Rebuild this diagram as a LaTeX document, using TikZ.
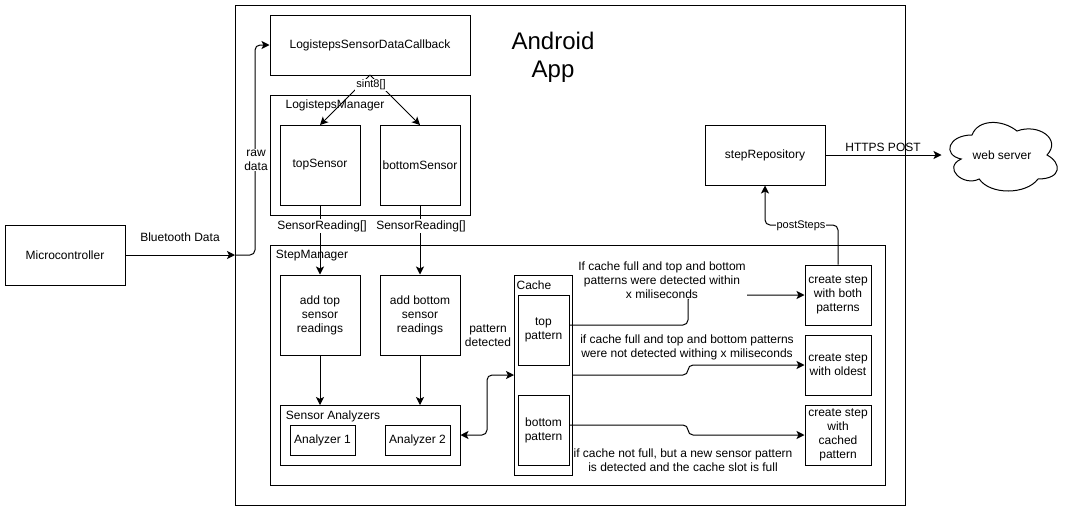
\documentclass[tikz,border=0pt]{standalone}
\usepackage{fontspec}
\setmainfont{Liberation Sans}
\usepackage{tikz}
\usetikzlibrary{arrows.meta}

\tikzset{
	box/.style = {draw, inner sep=0pt, align=center, minimum width=#1},
	box/.default = 80pt,
	txt/.style = {inner sep=1pt, align=center},
	tag/.style = {inner sep=1pt, align=center, fill=white},
	small/.style = {font=\fontsize{11}{13}\selectfont},
	flow/.style = {->, rounded corners=5pt},
}

\begin{document}
\begin{tikzpicture}[x=1pt, y=-1pt, >={Stealth[length=8pt, width=8pt, inset=2pt]}, line width=1pt, font=\fontsize{12}{14}\selectfont]
\useasboundingbox (0,0) rectangle (1069,512);

% containers
\node[box=670pt, minimum height=500pt] (app) at (570,255) {};
\node[box=200pt, minimum height=120pt] (logmgr) at (370,155) {};
\node[box=615pt, minimum height=240pt] (stepmgr) at (577.5,365) {};
\node[box=180pt, minimum height=60pt] (analyzers) at (370,435) {};
\node[box=58pt, minimum height=200pt] (cache) at (543,375) {};

\node[box=120pt, minimum height=60pt] (micro) at (65,255) {Microcontroller};
\node[box=200pt, minimum height=60pt] (callback) at (370,45) {LogistepsSensorDataCallback};
\node[box, minimum height=80pt] (top) at (320,165) {topSensor};
\node[box, minimum height=80pt] (bottom) at (420,165) {bottomSensor};
\node[box, minimum height=80pt] (addtop) at (320,315) {add top\\sensor\\readings};
\node[box, minimum height=80pt] (addbottom) at (420,315) {add bottom\\sensor\\readings};
\node[box=65pt, minimum height=30pt] (an1) at (322.5,440) {Analyzer 1};
\node[box=65pt, minimum height=30pt] (an2) at (417.5,440) {Analyzer 2};
\node[box=51pt, minimum height=70pt] (toppat) at (543.5,330) {top\\pattern};
\node[box=51pt, minimum height=70pt] (botpat) at (543.5,430) {bottom\\pattern};
\node[box=66pt, minimum height=60pt] (both) at (838,295) {create step\\with both\\patterns};
\node[box=66pt, minimum height=60pt] (oldest) at (838,365) {create step\\with oldest};
\node[box=66pt, minimum height=60pt] (cached) at (838,435) {create step\\with\\cached\\pattern};
\node[box=120pt, minimum height=60pt] (repo) at (765,155) {stepRepository};

% cloud outline
\node[inner sep=0pt, minimum width=120pt, minimum height=80pt] (web) at (1002,155) {web server};
\draw[shift={(942,115)}, x=1.2pt, y=-0.8pt] (25,25) .. controls (5,25) and (0,50) .. (16,55)
	.. controls (0,66) and (18,90) .. (31,80) .. controls (40,100) and (70,100) .. (80,80)
	.. controls (100,80) and (100,60) .. (87.5,50) .. controls (100,30) and (80,10) .. (62.5,20)
	.. controls (50,5) and (30,5) .. (25,25) -- cycle;

\coordinate (btin) at (235,255);
\coordinate (fork) at (370,75);
\coordinate (cachein) at (514,375);
\coordinate (topout) at (569,325);
\coordinate (botout) at (569,425);

\draw[->] (micro) -- (btin);
\draw[flow] (btin) -- (255,255) |- (callback.west);
\draw[->] (fork) -- (320,125);
\draw[->] (fork) -- (420,125);
\draw[->] (top) -- (addtop);
\draw[->] (bottom) -- (addbottom);
\draw[->] (addtop) -- (320,405);
\draw[->] (addbottom) -- (420,405);
\draw[flow, <->] (analyzers) -- (487,435) |- (cachein);
\draw[flow] (topout) -- (688,325) |- (both);
\draw[flow] (cachein -| cache.east) -- (688,375) -- (688,365) -- (oldest);
\draw[flow] (botout) -- (688,425) -- (688,435) -- (cached);
\draw[flow] (both.north) -- (838,225) -- (765,225) -- (repo.south);
\draw[->] (repo) -- (web);

\node[txt] (bluetooth) at (180,237) {Bluetooth Data};
\node[tag] (raw) at (256,160) {raw\\data};
\node[tag, small] (sint) at (371,85) {sint8[]};
\node[tag] (readtop) at (322,226) {SensorReading[]};
\node[tag] (readbot) at (421,226) {SensorReading[]};
\node[txt] (logname) at (335,105) {LogistepsManager};
\node[txt] (stepname) at (312,256) {StepManager};
\node[txt] (anname) at (333,416) {Sensor Analyzers};
\node[txt] (cachename) at (534,285) {Cache};
\node[txt] (detected) at (488,336) {pattern\\detected};
\node[tag] (within) at (662,280) {If cache full and top and bottom\\patterns were detected within\\x miliseconds};
\node[txt] (notwithin) at (687,347) {if cache full and top and bottom patterns\\were not detected withing x miliseconds};
\node[txt] (notfull) at (683,460) {if cache not full, but a new sensor pattern\\is detected and the cache slot is full};
\node[tag, small] (post) at (801,226) {postSteps};
\node[txt] (https) at (883,147) {HTTPS POST};
\node[txt, font=\fontsize{24}{28}\selectfont] (title) at (553,57) {Android\\App};
\end{tikzpicture}
\end{document}
